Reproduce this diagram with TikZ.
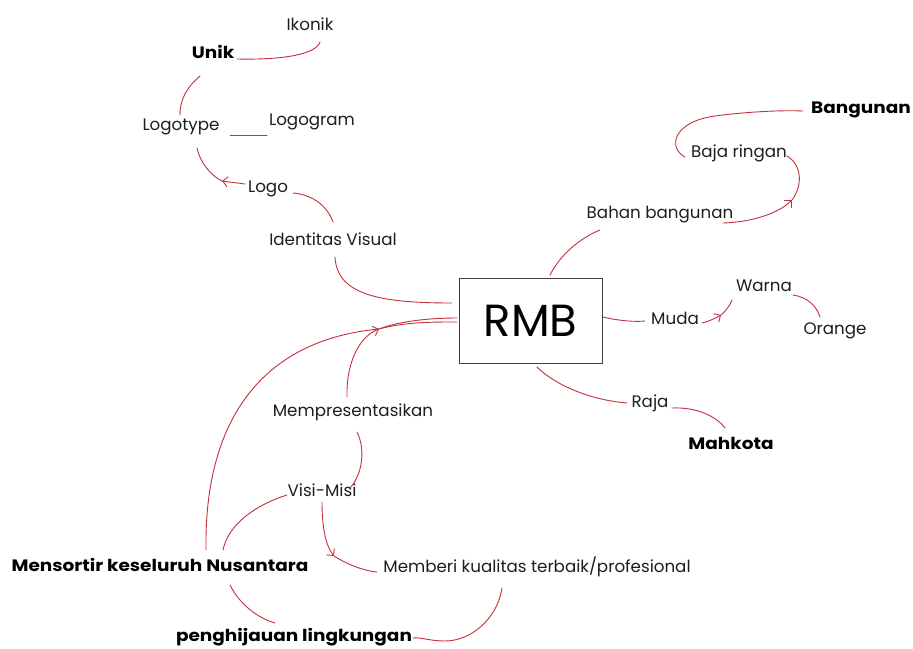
\documentclass[tikz,border=0pt]{standalone}
\usepackage{fontspec}
\setmainfont{Poppins}
\newfontfamily\widebold[FakeStretch=1.12]{Poppins}
\usetikzlibrary{arrows.meta}
\definecolor{lnk}{RGB}{196,48,60}
\definecolor{txt}{RGB}{30,30,30}
\tikzset{
  lbl/.style={inner sep=0pt, text=txt, font=\fontsize{16.7}{19}\selectfont},
  blbl/.style={inner sep=0pt, text=black, font=\fontsize{16.5}{19}\widebold\bfseries},
  link/.style={draw=lnk, line width=0.9pt, line cap=round},
  tip/.style={link, -{Straight Barb[length=5pt,width=10pt]}}
}
\begin{document}
\begin{tikzpicture}[x=1pt,y=-1pt]
\useasboundingbox[fill=white] (0,0) rectangle (913,648);
% nodes
\node[lbl]  (ikonik)   at (310,24)  {Ikonik};
\node[blbl] (unik)     at (213,52)  {Unik};
\node[lbl]  (logotype) at (181,127) {Logotype};
\node[lbl]  (logogram) at (312,122) {Logogram};
\node[lbl]  (logo)     at (268,189) {Logo};
\node[lbl]  (ident)    at (333,239) {Identitas Visual};
\node[draw=black!75, line width=1pt, minimum width=143pt, minimum height=85pt, inner sep=0pt,
      font=\fontsize{45}{48}\selectfont, text=black] (rmb) at (530.5,320.5) {RMB};
\node[lbl]  (bahan)    at (660,215) {Bahan bangunan};
\node[lbl]  (baja)     at (739,153) {Baja ringan};
\node[blbl] (bangunan) at (861,110) {Bangunan};
\node[lbl]  (muda)     at (675,318) {Muda};
\node[lbl]  (warna)    at (764,286) {Warna};
\node[lbl]  (orange)   at (835,331) {Orange};
\node[lbl]  (raja)     at (650,403) {Raja};
\node[blbl] (mahkota)  at (731,443) {Mahkota};
\node[lbl]  (mempres)  at (353,412) {Mempresentasikan};
\node[lbl]  (visi)     at (322,490) {Visi-Misi};
\node[lbl]  (memberi)  at (537,567) {Memberi kualitas terbaik/profesional};
\node[blbl] (mensortir) at (160,565) {Mensortir keseluruh Nusantara};
\node[blbl] (hijau)    at (294,637) {penghijauan lingkungan};
% connector end points
\coordinate (unikR) at (237,59);   \coordinate (ikonikB) at (320,42);
\coordinate (unikB) at (200,76);   \coordinate (logotypeT) at (180,115);
\coordinate (logotypeR) at (230,135); \coordinate (logogramL) at (267,135);
\coordinate (logoL) at (245,184);  \coordinate (logoJ) at (222,181); \coordinate (logotypeB) at (197,148);
\coordinate (logoR) at (293,193);  \coordinate (identT) at (333,222);
\coordinate (identB) at (335,257); \coordinate (rmbL1) at (452,303);
\coordinate (mensT) at (206,550);  \coordinate (rmbL3) at (457,322);
\coordinate (mempT) at (347,397);  \coordinate (cross) at (379,329); \coordinate (rmbL2) at (457,318);
\coordinate (rmbT) at (550,275);   \coordinate (bahanB) at (600,230);
\coordinate (bahanR) at (723,223); \coordinate (bajaJ) at (792,200); \coordinate (bajaR) at (787,156);
\coordinate (bajaL) at (685,157);  \coordinate (bangL) at (803,111);
\coordinate (rmbR) at (603,317);   \coordinate (mudaL) at (645,321);
\coordinate (mudaR) at (702,323);  \coordinate (mudaJ) at (721,315); \coordinate (warnaL) at (732,300);
\coordinate (warnaR) at (793,295); \coordinate (orangeT) at (820,317);
\coordinate (rmbB) at (537,367);   \coordinate (rajaL) at (627,403);
\coordinate (rajaR) at (672,408);  \coordinate (mahkT) at (725,428);
\coordinate (mempB) at (357,432);  \coordinate (visiR) at (350,488);
\coordinate (visiB) at (322,502);  \coordinate (visiJ) at (334,556); \coordinate (memberiL) at (377,572);
\coordinate (visiL) at (287,495);  \coordinate (mensT2) at (223,550);
\coordinate (mensB) at (230,585);  \coordinate (hijauT) at (275,623);
\coordinate (memberiB) at (502,588); \coordinate (hijauR) at (413,638);
% connectors
\draw[link] (unikR) .. controls (285,60) and (316,54) .. (ikonikB);
\draw[link] (unikB) .. controls (186,88) and (180,100) .. (logotypeT);
\draw[link] (logotypeR) -- (logogramL);
\draw[tip] (logoL) -- (logoJ);
\draw[link] (logoJ) .. controls (210,175) and (200,162) .. (logotypeB);
\draw[link] (logoR) .. controls (315,195) and (328,208) .. (identT);
\draw[link] (identB) .. controls (337,295) and (380,303) .. (rmbL1);
\draw[link] (mensT) .. controls (204,420) and (262,340) .. (cross) .. controls (405,322) and (430,322) .. (rmbL3);
\draw[tip] (mempT) .. controls (346,362) and (360,336) .. (cross);
\draw[link] (cross) .. controls (400,321) and (430,318) .. (rmbL2);
\draw[link] (rmbT) .. controls (560,255) and (580,238) .. (bahanB);
\draw[tip] (bahanR) .. controls (755,222) and (780,212) .. (bajaJ);
\draw[link] (bajaJ) .. controls (803,185) and (802,165) .. (bajaR);
\draw[link] (bajaL) .. controls (668,148) and (672,122) .. (715,116) .. controls (745,112) and (780,110) .. (bangL);
\draw[link] (rmbR) .. controls (620,321) and (635,322) .. (mudaL);
\draw[tip] (mudaR) .. controls (710,321) and (716,318) .. (mudaJ);
\draw[link] (mudaJ) .. controls (726,311) and (730,305) .. (warnaL);
\draw[link] (warnaR) .. controls (808,297) and (817,307) .. (orangeT);
\draw[link] (rmbB) .. controls (555,385) and (590,400) .. (rajaL);
\draw[link] (rajaR) .. controls (695,407) and (715,415) .. (mahkT);
\draw[link] (mempB) .. controls (366,450) and (362,475) .. (visiR);
\draw[tip] (visiB) .. controls (322,525) and (325,545) .. (visiJ);
\draw[link] (visiJ) .. controls (348,565) and (365,571) .. (memberiL);
\draw[link] (visiL) .. controls (255,505) and (228,525) .. (mensT2);
\draw[link] (mensB) .. controls (240,605) and (258,618) .. (hijauT);
\draw[link] (memberiB) .. controls (497,620) and (470,641) .. (445,641) .. controls (430,641) and (420,637) .. (hijauR);
\end{tikzpicture}
\end{document}
